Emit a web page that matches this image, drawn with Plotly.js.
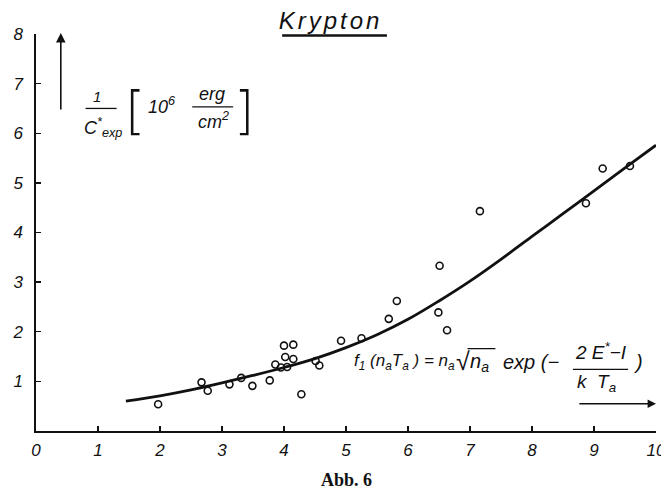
<!DOCTYPE html>
<html>
<head>
<meta charset="utf-8">
<script src="https://cdn.plot.ly/plotly-3.0.1.min.js"></script>
<style>html,body{margin:0;padding:0;background:#fff;}#chart{width:661px;height:495px;}</style>
</head>
<body>
<div id="chart"></div>
<script>
// Measured points (x: f1(na,Ta), y: 1/C*exp [10^6 erg/cm^2])
const pointsX = [1.97, 2.67, 2.77, 3.12, 3.31, 3.49, 3.77, 3.86, 3.95, 4.00, 4.02, 4.05, 4.15, 4.15, 4.28, 4.51, 4.57,
                 4.92, 5.25, 5.69, 5.82, 6.49, 6.63, 6.51, 7.16, 8.87, 9.14, 9.58];
const pointsY = [0.54, 0.98, 0.81, 0.94, 1.07, 0.91, 1.02, 1.34, 1.28, 1.72, 1.49, 1.29, 1.74, 1.45, 0.74, 1.41, 1.32,
                 1.82, 1.87, 2.26, 2.62, 2.39, 2.03, 3.33, 4.43, 4.59, 5.29, 5.34];
// Fitted curve
const curveX = [1.45, 2.0, 2.5, 3.0, 3.5, 4.0, 4.5, 5.0, 5.5, 6.0, 6.5, 7.0, 7.5, 8.0, 8.5, 9.0, 9.5, 10.0];
const curveY = [0.60, 0.71, 0.83, 0.97, 1.12, 1.28, 1.46, 1.68, 1.94, 2.25, 2.62, 3.02, 3.46, 3.92, 4.38, 4.84, 5.30, 5.76];
const xTicks = [0, 1, 2, 3, 4, 5, 6, 7, 8, 9, 10];
const yTicks = [1, 2, 3, 4, 5, 6, 7, 8];

const tickFont = {family: 'Liberation Sans, Arial, sans-serif', size: 17, color: '#111', style: 'italic'};
const lblFont = {family: 'Liberation Sans, Arial, sans-serif', size: 17, color: '#111', style: 'italic'};
function f(size) { return Object.assign({}, lblFont, {size: size}); }

const traces = [
  {x: curveX, y: curveY, mode: 'lines', line: {color: '#111', width: 2.8, shape: 'spline', smoothing: 1.0}, hoverinfo: 'skip'},
  {x: pointsX, y: pointsY, mode: 'markers', marker: {symbol: 'circle-open', size: 7, color: '#111', line: {width: 1.6, color: '#111'}}}
];

function ann(x, y, text, extra) {
  return Object.assign({x: x, y: y, xref: 'x', yref: 'y', text: text, showarrow: false, font: lblFont}, extra || {});
}

const annotations = [
  // Y axis label
  ann(0.98, 6.75, '1', {font: f(15)}),
  ann(1.08, 6.12, 'C<sup>*</sup><sub>exp</sub>', {font: f(18)}),
  ann(1.60, 6.46, '[', {font: {family: 'DejaVu Sans, sans-serif', size: 52, color: '#111', weight: 300}}),
  ann(2.02, 6.55, '10<sup>6</sup>', {font: f(18)}),
  ann(2.84, 6.80, 'erg', {font: f(18)}),
  ann(2.86, 6.25, 'cm<sup>2</sup>', {font: f(18)}),
  ann(3.36, 6.46, ']', {font: {family: 'DejaVu Sans, sans-serif', size: 52, color: '#111', weight: 300}}),
  // vertical arrow
  {x: 0.40, y: 8.02, ax: 0.40, ay: 6.45, xref: 'x', yref: 'y', axref: 'x', ayref: 'y', text: '', showarrow: true,
   arrowhead: 2, arrowsize: 1.2, arrowwidth: 1.6, arrowcolor: '#111'},
  // formula
  ann(5.10, 1.39, 'f<sub>1</sub> (n<sub>a</sub>T<sub>a</sub> ) = n<sub>a</sub>', {xanchor: 'left', font: f(17)}),
  ann(6.88, 1.42, '√', {font: f(25)}),
  ann(6.97, 1.39, 'n<sub>a</sub>', {xanchor: 'left', font: f(20)}),
  ann(7.50, 1.39, 'exp (−', {xanchor: 'left', font: f(20)}),
  ann(9.11, 1.62, '2 E<sup>*</sup>−I', {font: f(19)}),
  ann(9.04, 0.97, 'k  T<sub>a</sub>', {font: f(19)}),
  ann(9.71, 1.39, ')', {font: f(20)}),
  // horizontal arrow
  {x: 10.0, y: 0.55, ax: 8.74, ay: 0.55, xref: 'x', yref: 'y', axref: 'x', ayref: 'y', text: '', showarrow: true,
   arrowhead: 2, arrowsize: 1.2, arrowwidth: 1.4, arrowcolor: '#111'},
  // caption
  {x: 0.5, y: -0.1234, xref: 'paper', yref: 'paper', xanchor: 'center', yanchor: 'middle', text: '<b>Abb. 6</b>', showarrow: false,
   font: {family: 'Liberation Serif, Times New Roman, serif', size: 18, color: '#111'}}
];

const shapes = [
  {type: 'line', xref: 'x', yref: 'y', x0: 0.80, x1: 1.30, y0: 6.50, y1: 6.50, line: {color: '#111', width: 1.3}},
  {type: 'line', xref: 'x', yref: 'y', x0: 2.52, x1: 3.18, y0: 6.53, y1: 6.53, line: {color: '#111', width: 1.3}},
  {type: 'line', xref: 'x', yref: 'y', x0: 8.66, x1: 9.55, y0: 1.24, y1: 1.24, line: {color: '#111', width: 1.3}},
  // radical bar
  {type: 'line', xref: 'x', yref: 'y', x0: 6.96, x1: 7.41, y0: 1.66, y1: 1.66, line: {color: '#111', width: 1.3}},
  // title underline
  {type: 'line', xref: 'x', yref: 'y', x0: 3.97, x1: 5.66, y0: 7.97, y1: 7.97, line: {color: '#111', width: 2.6}}
];

const layout = {
  width: 661, height: 495,
  margin: {l: 36, r: 5, t: 34, b: 64},
  paper_bgcolor: '#fff', plot_bgcolor: '#fff',
  showlegend: false,
  title: {text: '<i><span style="letter-spacing:3px">Krypton</span></i>', x: 0.5, xanchor: 'center', y: 0.958, yanchor: 'middle',
          font: {family: 'Liberation Sans, Arial, sans-serif', size: 24, color: '#111'}},
  xaxis: {range: [0, 10], tickvals: xTicks, ticktext: xTicks.map(String), ticks: 'inside', ticklen: 5, tickwidth: 1.4,
          tickcolor: '#111', showline: true, linecolor: '#111', linewidth: 1.6, showgrid: false, zeroline: false,
          tickfont: tickFont, ticklabelstandoff: 3, ticklabeloverflow: 'allow', fixedrange: true},
  yaxis: {range: [0, 8], tickvals: yTicks, ticktext: yTicks.map(String), ticks: 'inside', ticklen: 5, tickwidth: 1.4,
          tickcolor: '#111', showline: true, linecolor: '#111', linewidth: 1.6, showgrid: false, zeroline: false,
          tickfont: tickFont, ticklabelstandoff: 8, fixedrange: true},
  annotations: annotations,
  shapes: shapes
};

Plotly.newPlot('chart', traces, layout, {displayModeBar: false, staticPlot: true});
</script>
</body>
</html>
